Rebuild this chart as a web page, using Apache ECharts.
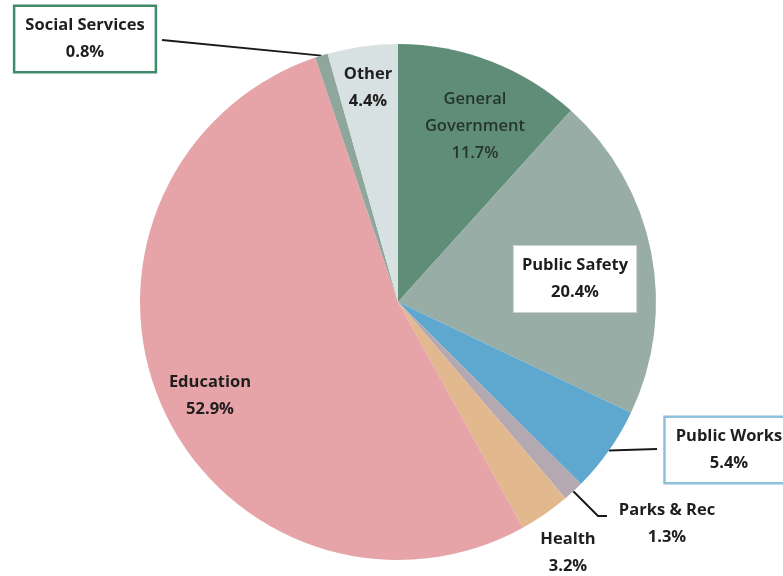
<!DOCTYPE html>
<html>
<head>
<meta charset="utf-8">
<script src="https://cdn.jsdelivr.net/npm/echarts@6/dist/echarts.min.js"></script>
<style>
  html, body { margin: 0; padding: 0; background: #fff; }
  #chart { width: 783px; height: 576px; }
</style>
</head>
<body>
<div id="chart"></div>
<script>
// slices, clockwise from 12 o'clock
var categories = ['General Government', 'Public Safety', 'Public Works', 'Parks & Rec', 'Health', 'Education', 'Social Services', 'Other'];
var shares = [11.7, 20.4, 5.4, 1.3, 3.2, 52.9, 0.8, 4.4];
var colors = ['#5f8d78', '#98ada6', '#5ea8d0', '#b4a9b0', '#e2b88e', '#e6a3a8', '#8ea69c', '#d8e1e1'];

// label centres (px) and extra leader-line bends
var labelPos = [[475, 126], [575, 279], [730, 450], [667, 524], [568, 553], [210, 396], [85, 39], [368, 88]];
var leaderBend = { 'Social Services': [[162, 40]], 'Public Works': [[657, 449]], 'Parks & Rec': [[598, 516], [607, 516]] };

var myChart = echarts.init(document.getElementById('chart'));

var boxed = {
  'Social Services': { backgroundColor: '#fff', borderColor: '#3f8a68', borderWidth: 2.5, padding: [6, 10, 4, 10] },
  'Public Safety': { backgroundColor: '#fff', borderColor: '#c9d2cf', borderWidth: 1, padding: [7, 8, 5, 8] },
  'Public Works': { backgroundColor: '#fff', borderColor: '#8fc0dc', borderWidth: 2.5, padding: [6, 12, 4, 10] }
};

var data = categories.map(function (name, i) {
  var item = {
    name: name,
    value: shares[i],
    itemStyle: { color: colors[i] },
    label: Object.assign({}, boxed[name] || {}),
    labelLine: { show: !!leaderBend[name] }
  };
  if (name === 'General Government') {
    item.label.color = '#26352c';
    item.label.fontWeight = 600;
  }
  return item;
});

const option = {
  backgroundColor: '#ffffff',
  animation: false,
  series: [
    {
      type: 'pie',
      center: [398, 302],
      radius: 258,
      startAngle: 90,
      clockwise: true,
      avoidLabelOverlap: false,
      itemStyle: { borderWidth: 0 },
      label: {
        show: true,
        position: 'outside',
        fontFamily: 'Open Sans',
        fontWeight: 'bold',
        fontSize: 16.5,
        lineHeight: 27,
        color: '#1e1e1e',
        align: 'center',
        formatter: function (p) {
          var n = p.name === 'General Government' ? 'General\nGovernment' : p.name;
          return n + '\n' + p.value + '%';
        }
      },
      labelLine: {
        lineStyle: { color: '#1a1a1a', width: 2 },
        length: 0,
        length2: 0
      },
      labelLayout: function (params) {
        var i = params.dataIndex;
        var name = categories[i];
        var res = {
          x: labelPos[i][0],
          y: labelPos[i][1],
          align: 'center',
          verticalAlign: 'middle'
        };
        if (leaderBend[name] && params.labelLinePoints) {
          res.labelLinePoints = [params.labelLinePoints[0]].concat(leaderBend[name]);
        }
        return res;
      },
      data: data
    }
  ]
};

myChart.setOption(option);
</script>
</body>
</html>
